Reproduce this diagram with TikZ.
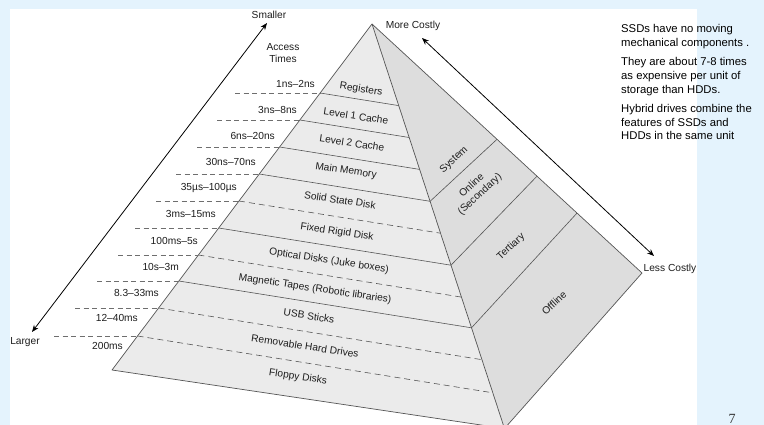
\documentclass[tikz,border=0pt]{standalone}
\usepackage{fontspec}
\setmainfont{Liberation Sans}
\newfontfamily\pagenumfont{Liberation Serif}
\usetikzlibrary{arrows.meta}
\definecolor{bgblue}{RGB}{228,243,253}
\definecolor{frontgray}{RGB}{235,235,235}
\definecolor{sidegray}{RGB}{221,221,221}
\definecolor{edgegray}{RGB}{85,85,85}
\definecolor{dashgray}{RGB}{110,110,110}
\definecolor{txt}{RGB}{30,30,30}
\begin{document}
\begin{tikzpicture}[x=1pt,y=-1pt,
  pedge/.style={draw=edgegray,line width=0.7pt,line join=round},
  layerline/.style={draw=edgegray,line width=0.6pt},
  dlayer/.style={layerline,dash pattern=on 6pt off 4pt},
  tdash/.style={draw=dashgray,line width=0.7pt,dash pattern=on 5pt off 3.5pt},
  lbl/.style={font=\fontsize{10.2}{12}\selectfont,text=txt,inner sep=0pt},
  flbl/.style={lbl,rotate=-8.5},
  slbl/.style={lbl,rotate=43,align=center},
  tlbl/.style={lbl,anchor=east},
  dblarrow/.style={draw=black,line width=0.8pt,{Stealth[length=7pt,width=5.5pt]}-{Stealth[length=7pt,width=5.5pt]}}
]
\useasboundingbox (0,0) rectangle (764,425);
\clip (0,0) rectangle (764,425);
\fill[bgblue] (0,0) rectangle (764,425);
\fill[white] (10,9) rectangle (697,430);

% pyramid vertices
\coordinate (apex) at (372,24);
\coordinate (bl) at (112,370);
\coordinate (bv) at (504.5,428.5);
\coordinate (rc) at (642,273);

% layer boundary points
\coordinate (l1) at (320.15,93);  \coordinate (r1) at (398.7,105.6);
\coordinate (l2) at (299.87,120); \coordinate (r2) at (409.2,137.5);
\coordinate (l3) at (279.58,147); \coordinate (r3) at (419.6,169.4);
\coordinate (l4) at (259.29,174); \coordinate (r4) at (430.1,201.3);
\coordinate (l5) at (239.0,201);  \coordinate (r5) at (440.5,233.2);
\coordinate (l6) at (218.71,228); \coordinate (r6) at (451.0,265.2);
\coordinate (l7) at (198.43,255); \coordinate (r7) at (461.4,297.1);
\coordinate (l8) at (178.89,281); \coordinate (r8) at (471.5,327.8);
\coordinate (l9) at (158.6,308);  \coordinate (r9) at (482.0,359.7);
\coordinate (l10) at (137.6,336); \coordinate (r10) at (492.8,392.8);

% side partition points
\coordinate (s1) at (497,139.3);
\coordinate (s2) at (537,176.2);
\coordinate (s3) at (577,213.1);

% faces
\fill[frontgray] (apex) -- (bl) -- (bv) -- cycle;
\fill[sidegray] (apex) -- (bv) -- (rc) -- cycle;

% layer lines
\draw[layerline] (l1) -- (r1);
\draw[layerline] (l2) -- (r2);
\draw[layerline] (l3) -- (r3);
\draw[layerline] (l4) -- (r4);
\draw[dlayer] (l5) -- (r5);
\draw[layerline] (l6) -- (r6);
\draw[dlayer] (l7) -- (r7);
\draw[layerline] (l8) -- (r8);
\draw[dlayer] (l9) -- (r9);
\draw[dlayer] (l10) -- (r10);

% side partitions
\draw[layerline] (r4) -- (s1);
\draw[layerline] (r6) -- (s2);
\draw[layerline] (r8) -- (s3);

% outlines
\draw[pedge] (apex) -- (bl) -- (bv) -- (rc) -- cycle;
\draw[pedge] (apex) -- (bv);

% access time dashes
\coordinate (d1) at (235,93);
\coordinate (d2) at (217,120);
\coordinate (d3) at (197,147);
\coordinate (d4) at (176,174);
\coordinate (d5) at (156,201);
\coordinate (d6) at (135,228);
\coordinate (d7) at (118,255);
\coordinate (d8) at (97,281);
\coordinate (d9) at (75,308);
\coordinate (d10) at (54,336);
\foreach \i in {1,...,10} {\draw[tdash] (d\i) -- (l\i);}

% front labels
\node[flbl] (reg) at (361,89.5) {Registers};
\node[flbl] (lc1) at (356,116) {Level 1 Cache};
\node[flbl] (lc2) at (352,143) {Level 2 Cache};
\node[flbl] (mm) at (346,171) {Main Memory};
\node[flbl] (ssd) at (340,200) {Solid State Disk};
\node[flbl] (frd) at (337,232) {Fixed Rigid Disk};
\node[flbl] (opt) at (329,261) {Optical Disks (Juke boxes)};
\node[flbl] (mag) at (315,289) {Magnetic Tapes (Robotic libraries)};
\node[flbl] (usb) at (309,316) {USB Sticks};
\node[flbl] (rhd) at (305,346) {Removable Hard Drives};
\node[flbl] (flop) at (298,377) {Floppy Disks};

% side labels
\node[slbl] (sys) at (454,160) {System};
\node[slbl] (onl) at (476,190) {Online\\(Secondary)};
\node[slbl] (ter) at (511,247) {Tertiary};
\node[slbl] (off) at (554,303) {Offline};

% access times
\node[lbl,align=center] (acc) at (283,53.5) {Access\\Times};
\node[tlbl] (t1) at (315,84) {1ns–2ns};
\node[tlbl] (t2) at (297,110) {3ns–8ns};
\node[tlbl] (t3) at (275,136) {6ns–20ns};
\node[tlbl] (t4) at (256,162) {30ns–70ns};
\node[tlbl] (t5) at (237,188) {35µs–100µs};
\node[tlbl] (t6) at (216,214) {3ms–15ms};
\node[tlbl] (t7) at (198,241) {100ms–5s};
\node[tlbl] (t8) at (179,267) {10s–3m};
\node[tlbl] (t9) at (159,293) {8.3–33ms};
\node[tlbl] (t10) at (138,318) {12–40ms};
\node[tlbl] (t11) at (123,346) {200ms};

% arrows and their labels
\node[lbl] (small) at (269,15) {Smaller};
\node[lbl] (large) at (25,342) {Larger};
\node[lbl] (more) at (413,26) {More Costly};
\node[lbl] (less) at (670,269) {Less Costly};
\coordinate (smtip) at (267,23);
\coordinate (lgtip) at (32,332);
\coordinate (motip) at (422,38);
\coordinate (letip) at (654,256);
\draw[dblarrow] (lgtip) -- (smtip);
\draw[dblarrow] (motip) -- (letip);

% notes
\node[anchor=north west,inner sep=0pt,align=left,text=black,
      font=\fontsize{11.3}{13.7}\selectfont] (notes) at (621,24.5)
  {SSDs have no moving\\mechanical components .\\[5.5pt]
   They are about 7-8 times\\as expensive per unit of\\storage than HDDs.\\[5.5pt]
   Hybrid drives combine the\\features of SSDs and\\HDDs in the same unit};

\node[anchor=base,inner sep=0pt,font=\pagenumfont\fontsize{14}{16}\selectfont,text=black!80] (pnum) at (732,423) {7};
\end{tikzpicture}
\end{document}
